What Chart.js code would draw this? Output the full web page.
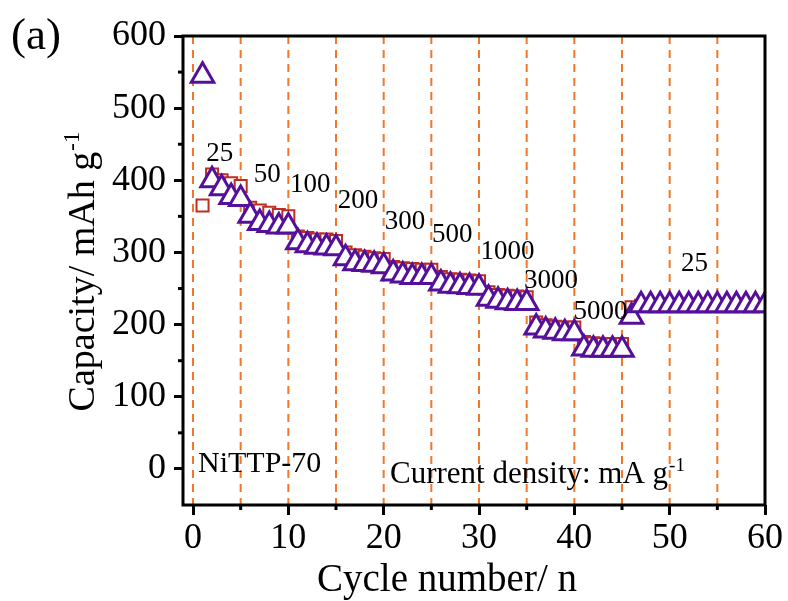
<!DOCTYPE html>
<html>
<head>
<meta charset="utf-8">
<script src="https://cdn.jsdelivr.net/npm/chart.js@4.4.0/dist/chart.umd.min.js"></script>
<style>
html, body { margin: 0; padding: 0; background: #fff; }
</style>
</head>
<body>
<canvas id="rateChart" width="788" height="601"></canvas>
<script>
// cycle index
const cycles = [
  1, 2, 3, 4, 5, 6, 7, 8, 9, 10, 11, 12, 13, 14, 15, 16, 17, 18, 19, 20,
  21, 22, 23, 24, 25, 26, 27, 28, 29, 30, 31, 32, 33, 34, 35, 36, 37, 38, 39, 40,
  41, 42, 43, 44, 45, 46, 47, 48, 49, 50, 51, 52, 53, 54, 55, 56, 57, 58, 59, 60
];

// capacity (mAh/g), triangles
const discharge = [
  545, 400, 389, 377, 374, 351, 341, 338, 336, 336,
  314, 310, 308, 307, 306, 292, 285, 284, 283, 281,
  271, 268, 266, 266, 266, 257, 254, 253, 252, 251,
  236, 233, 231, 230, 230, 196, 192, 190, 188, 188,
  167, 165, 165, 165, 165, 211, 227, 227, 227, 227,
  227, 227, 227, 227, 227, 227, 227, 227, 227, 227
];

// capacity (mAh/g), squares
const charge = [
  365, 408, 400, 396, 392, 362, 358, 355, 352, 350,
  322, 320, 318, 318, 316, 300, 296, 294, 292, 291,
  280, 278, 277, 276, 276, 266, 263, 262, 261, 260,
  245, 241, 240, 239, 238, 203, 199, 197, 196, 196,
  176, 174, 173, 173, 173, 224, 226, 226, 226, 226,
  226, 226, 226, 226, 226, 226, 226, 226, 226, 226
];

// current density steps, one label per block of 5 cycles
const rateLabels = ['25', '50', '100', '200', '300', '500', '1000', '3000', '5000', '25'];
const rateLabelCycle = [2.8, 7.8, 12.3, 17.3, 22.25, 27.2, 33.0, 37.55, 42.75, 52.6];
const rateLabelCap = [437, 407, 393, 371, 343, 324, 301, 261, 218, 284];

// dashed separators between rate blocks
const stepLines = [0, 5, 10, 15, 20, 25, 30, 35, 40, 45, 50, 55];

const xTicks = [0, 10, 20, 30, 40, 50, 60];
const yTicks = [0, 100, 200, 300, 400, 500, 600];
const xMinor = [5, 15, 25, 35, 45, 55];
const yMinor = [50, 150, 250, 350, 450, 550];

const SERIF = "'Liberation Serif', 'Times New Roman', serif";

// text with a trailing superscript, e.g. g^-1
function drawSupText(ctx, base, sup, x, y, size, align) {
  ctx.font = size + 'px ' + SERIF;
  const wBase = ctx.measureText(base).width;
  ctx.font = Math.round(size * 0.6) + 'px ' + SERIF;
  const wSup = ctx.measureText(sup).width;
  let x0 = x;
  if (align === 'center') x0 = x - (wBase + wSup) / 2;
  ctx.textAlign = 'left';
  ctx.textBaseline = 'alphabetic';
  ctx.font = size + 'px ' + SERIF;
  ctx.fillText(base, x0, y);
  ctx.font = Math.round(size * 0.6) + 'px ' + SERIF;
  ctx.fillText(sup, x0 + wBase + 1, y - size * 0.4);
}

const frame = {
  id: 'frame',
  beforeDatasetsDraw(chart) {
    const { ctx, chartArea: a, scales: { x } } = chart;
    ctx.save();
    ctx.strokeStyle = '#f0782c';
    ctx.lineWidth = 2;
    ctx.setLineDash([8, 6]);
    stepLines.forEach(c => {
      const px = x.getPixelForValue(c);
      ctx.beginPath();
      ctx.moveTo(px, a.top);
      ctx.lineTo(px, a.bottom);
      ctx.stroke();
    });
    ctx.restore();
  },
  afterDraw(chart) {
    const { ctx, chartArea: a, scales: { x, y } } = chart;
    ctx.save();

    // box
    ctx.strokeStyle = '#000';
    ctx.lineWidth = 3;
    ctx.strokeRect(a.left, a.top, a.right - a.left, a.bottom - a.top);

    // minor ticks
    yMinor.forEach(v => {
      const py = y.getPixelForValue(v);
      ctx.beginPath();
      ctx.moveTo(a.left - 5, py);
      ctx.lineTo(a.left, py);
      ctx.stroke();
    });
    xMinor.forEach(v => {
      const px = x.getPixelForValue(v);
      ctx.beginPath();
      ctx.moveTo(px, a.bottom);
      ctx.lineTo(px, a.bottom + 5);
      ctx.stroke();
    });

    ctx.fillStyle = '#000';

    // rate labels
    ctx.font = '27px ' + SERIF;
    ctx.textAlign = 'center';
    ctx.textBaseline = 'middle';
    rateLabels.forEach((t, i) => {
      ctx.fillText(t, x.getPixelForValue(rateLabelCycle[i]), y.getPixelForValue(rateLabelCap[i]));
    });

    // notes inside the plot
    ctx.textAlign = 'left';
    ctx.textBaseline = 'alphabetic';
    ctx.font = '30px ' + SERIF;
    ctx.fillText('NiTTP-70', 198, 472);
    drawSupText(ctx, 'Current density: mA g', '-1', 390, 483, 31, 'left');

    // panel tag
    ctx.font = '45px ' + SERIF;
    ctx.fillText('(a)', 11, 49);

    // axis titles
    ctx.textAlign = 'center';
    ctx.font = '39px ' + SERIF;
    ctx.fillText('Cycle number/ n', 447, 591);

    ctx.translate(94, 272);
    ctx.rotate(-Math.PI / 2);
    drawSupText(ctx, 'Capacity/ mAh g', '-1', 0, 0, 38, 'center');

    ctx.restore();
  }
};

new Chart(document.getElementById('rateChart'), {
  type: 'line',
  data: {
    labels: cycles,
    datasets: [{
      label: 'discharge',
      data: cycles.map((c, i) => ({ x: c, y: discharge[i] })),
      showLine: false,
      pointStyle: 'triangle',
      pointRadius: 13,
      pointBorderWidth: 3,
      pointBorderColor: '#55109b',
      pointBackgroundColor: '#fff',
      clip: 0
    }, {
      label: 'charge',
      data: cycles.map((c, i) => ({ x: c, y: charge[i] })),
      showLine: false,
      pointStyle: 'rect',
      pointRadius: 8.5,
      pointBorderWidth: 2,
      pointBorderColor: '#be2d22',
      pointBackgroundColor: '#fff',
      clip: 0
    }]
  },
  options: {
    responsive: false,
    animation: false,
    events: [],
    layout: { padding: { left: 0, top: 36, right: 23, bottom: 0 } },
    plugins: { legend: { display: false }, tooltip: { enabled: false } },
    scales: {
      x: {
        type: 'linear',
        min: -1.05,
        max: 60,
        afterBuildTicks: s => { s.ticks = xTicks.map(v => ({ value: v })); },
        afterFit: s => { s.height = 96; },
        border: { display: false },
        grid: { drawOnChartArea: false, color: '#000', lineWidth: 3, tickLength: 10 },
        ticks: { color: '#000', padding: 2, maxRotation: 0, font: { family: SERIF, size: 36 } }
      },
      y: {
        type: 'linear',
        min: -50,
        max: 600,
        afterBuildTicks: s => { s.ticks = yTicks.map(v => ({ value: v })); },
        afterFit: s => { s.width = 183; },
        border: { display: false },
        grid: { drawOnChartArea: false, color: '#000', lineWidth: 3, tickLength: 9 },
        ticks: { color: '#000', padding: 8, font: { family: SERIF, size: 36 } }
      }
    }
  },
  plugins: [frame]
});
</script>
</body>
</html>
